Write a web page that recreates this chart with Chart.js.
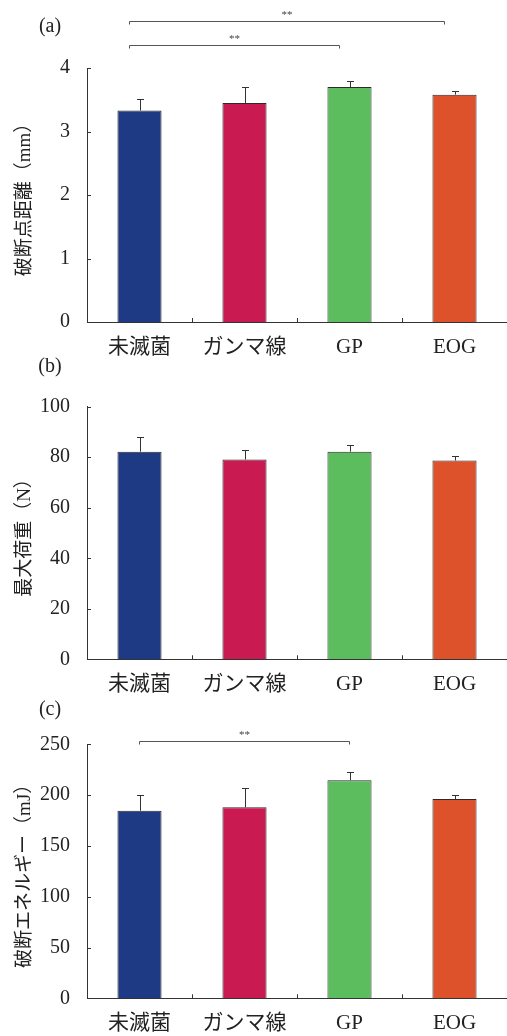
<!DOCTYPE html>
<html>
<head>
<meta charset="utf-8">
<script src="https://cdn.jsdelivr.net/npm/chart.js@4/dist/chart.umd.min.js"></script>
<style>
  body { margin: 0; background: #fff; }
  #wrap { position: relative; width: 507px; height: 1036px; }
  canvas { position: absolute; left: 0; }
</style>
</head>
<body>
<div id="wrap">
  <canvas id="chartA" width="507" height="362" style="top:0px"></canvas>
  <canvas id="chartB" width="507" height="350" style="top:350px"></canvas>
  <canvas id="chartC" width="507" height="341" style="top:695px"></canvas>
</div>
<script>
'use strict';

// data
var categories = ['未滅菌', 'ガンマ線', 'GP', 'EOG'];
var barColors = ['#1e3a85', '#c91b52', '#5cbd5e', '#dd522a'];

var distMean = [3.33, 3.45, 3.70, 3.58];
var distSD = [0.18, 0.25, 0.10, 0.05];
var distTicks = [0, 1, 2, 3, 4];

var loadMean = [82.2, 79.1, 82.2, 78.7];
var loadSD = [5.7, 3.6, 2.6, 1.6];
var loadTicks = [0, 20, 40, 60, 80, 100];

var energyMean = [184.6, 188.0, 214.6, 196.2];
var energySD = [15.5, 19.3, 7.8, 4.2];
var energyTicks = [0, 50, 100, 150, 200, 250];

// significance brackets: from / to category index, level in axis units
var distSig = [
  { from: 0, to: 3, level: 4.74, label: '**' },
  { from: 0, to: 2, level: 4.36, label: '**' }
];
var energySig = [
  { from: 0, to: 2, level: 253, label: '**' }
];

var FONT = "'Liberation Serif', 'Noto Sans CJK JP', serif";
var INK = '#333';

// error bars, inward ticks, brackets and the panel letter
var extras = {
  id: 'extras',
  afterDatasetsDraw: function(chart, args, opts) {
    var ctx = chart.ctx;
    var y = chart.scales.y;
    var x = chart.scales.x;
    var meta = chart.getDatasetMeta(0);
    var area = chart.chartArea;
    ctx.save();
    ctx.strokeStyle = INK;
    ctx.lineWidth = 1;

    // error bars (upper half only)
    for (var i = 0; i < meta.data.length; i++) {
      var bx = Math.round(meta.data[i].x) + 0.5;
      var yb = y.getPixelForValue(opts.mean[i]);
      var yt = Math.round(y.getPixelForValue(opts.mean[i] + opts.sd[i])) + 0.5;
      ctx.beginPath();
      ctx.moveTo(bx, yb);
      ctx.lineTo(bx, yt);
      ctx.moveTo(bx - 3.5, yt);
      ctx.lineTo(bx + 3.5, yt);
      ctx.stroke();
    }

    // y ticks pointing into the plot
    y.ticks.forEach(function(t) {
      var py = Math.round(y.getPixelForValue(t.value)) + 0.5;
      ctx.beginPath();
      ctx.moveTo(area.left, py);
      ctx.lineTo(area.left + 4, py);
      ctx.stroke();
    });

    // category separators on the x axis, pointing up
    for (var k = 1; k < categories.length; k++) {
      var px = Math.round((x.getPixelForValue(k - 1) + x.getPixelForValue(k)) / 2) + 0.5;
      ctx.beginPath();
      ctx.moveTo(px, area.bottom);
      ctx.lineTo(px, area.bottom - 4);
      ctx.stroke();
    }

    // brackets
    ctx.strokeStyle = '#555';
    ctx.fillStyle = '#444';
    ctx.font = '11px ' + FONT;
    ctx.textAlign = 'center';
    ctx.textBaseline = 'bottom';
    (opts.sig || []).forEach(function(s) {
      var x1 = x.getPixelForValue(s.from) + (opts.shift || 0);
      var x2 = x.getPixelForValue(s.to) + (opts.shift || 0);
      var ly = Math.round(y.getPixelForValue(s.level)) + 0.5;
      ctx.beginPath();
      ctx.moveTo(x1, ly + 3);
      ctx.lineTo(x1, ly);
      ctx.lineTo(x2, ly);
      ctx.lineTo(x2, ly + 3);
      ctx.stroke();
      ctx.fillText(s.label, (x1 + x2) / 2, ly - 1);
    });

    // panel letter
    ctx.fillStyle = '#222';
    ctx.font = '20px ' + FONT;
    ctx.textAlign = 'center';
    ctx.textBaseline = 'middle';
    ctx.fillText(opts.letter, 50, opts.letterY);
    ctx.restore();
  }
};

function makeChart(id, mean, sd, ticks, yTitle, top, xHeight, letter, letterY, sig, shift) {
  var ctx = document.getElementById(id).getContext('2d');
  return new Chart(ctx, {
    type: 'bar',
    data: {
      labels: categories,
      datasets: [{
        data: mean,
        backgroundColor: barColors,
        borderColor: '#2a2a2a',
        borderWidth: 1,
        barPercentage: 0.42,
        categoryPercentage: 1
      }]
    },
    options: {
      responsive: false,
      animation: false,
      layout: { padding: { top: top, left: 0, right: 0, bottom: 0 } },
      plugins: {
        legend: { display: false },
        tooltip: { enabled: false },
        extras: { mean: mean, sd: sd, sig: sig, shift: shift, letter: letter, letterY: letterY }
      },
      scales: {
        x: {
          grid: { display: false, drawTicks: false },
          border: { color: INK, width: 1 },
          ticks: { color: '#222', padding: 13, font: { family: FONT, size: 21 } },
          afterFit: function(s) { s.height = xHeight; }
        },
        y: {
          min: ticks[0],
          max: ticks[ticks.length - 1],
          afterBuildTicks: function(s) {
            s.ticks = ticks.map(function(v) { return { value: v }; });
          },
          grid: { display: false, drawTicks: false },
          border: { color: INK, width: 1 },
          ticks: { color: '#222', padding: 17, font: { family: FONT, size: 20 } },
          title: {
            display: true,
            text: yTitle,
            color: '#222',
            padding: { top: 14, bottom: 0 },
            font: { family: FONT, size: 19 }
          },
          afterFit: function(s) { s.width = 87; }
        }
      }
    },
    plugins: [extras]
  });
}

// canvas A: 0-362, plot 68..322
makeChart('chartA', distMean, distSD, distTicks, '破断点距離（mm）', 68, 40, '(a)', 27, distSig, -10);
// canvas B: 350-700, plot 406.7..659.3
makeChart('chartB', loadMean, loadSD, loadTicks, '最大荷重（N）', 56.7, 40.7, '(b)', 17, [], 0);
// canvas C: 695-1036, plot 744.3..998.3
makeChart('chartC', energyMean, energySD, energyTicks, '破断エネルギー（mJ）', 49.3, 37.7, '(c)', 15, energySig, 0);
</script>
</body>
</html>
